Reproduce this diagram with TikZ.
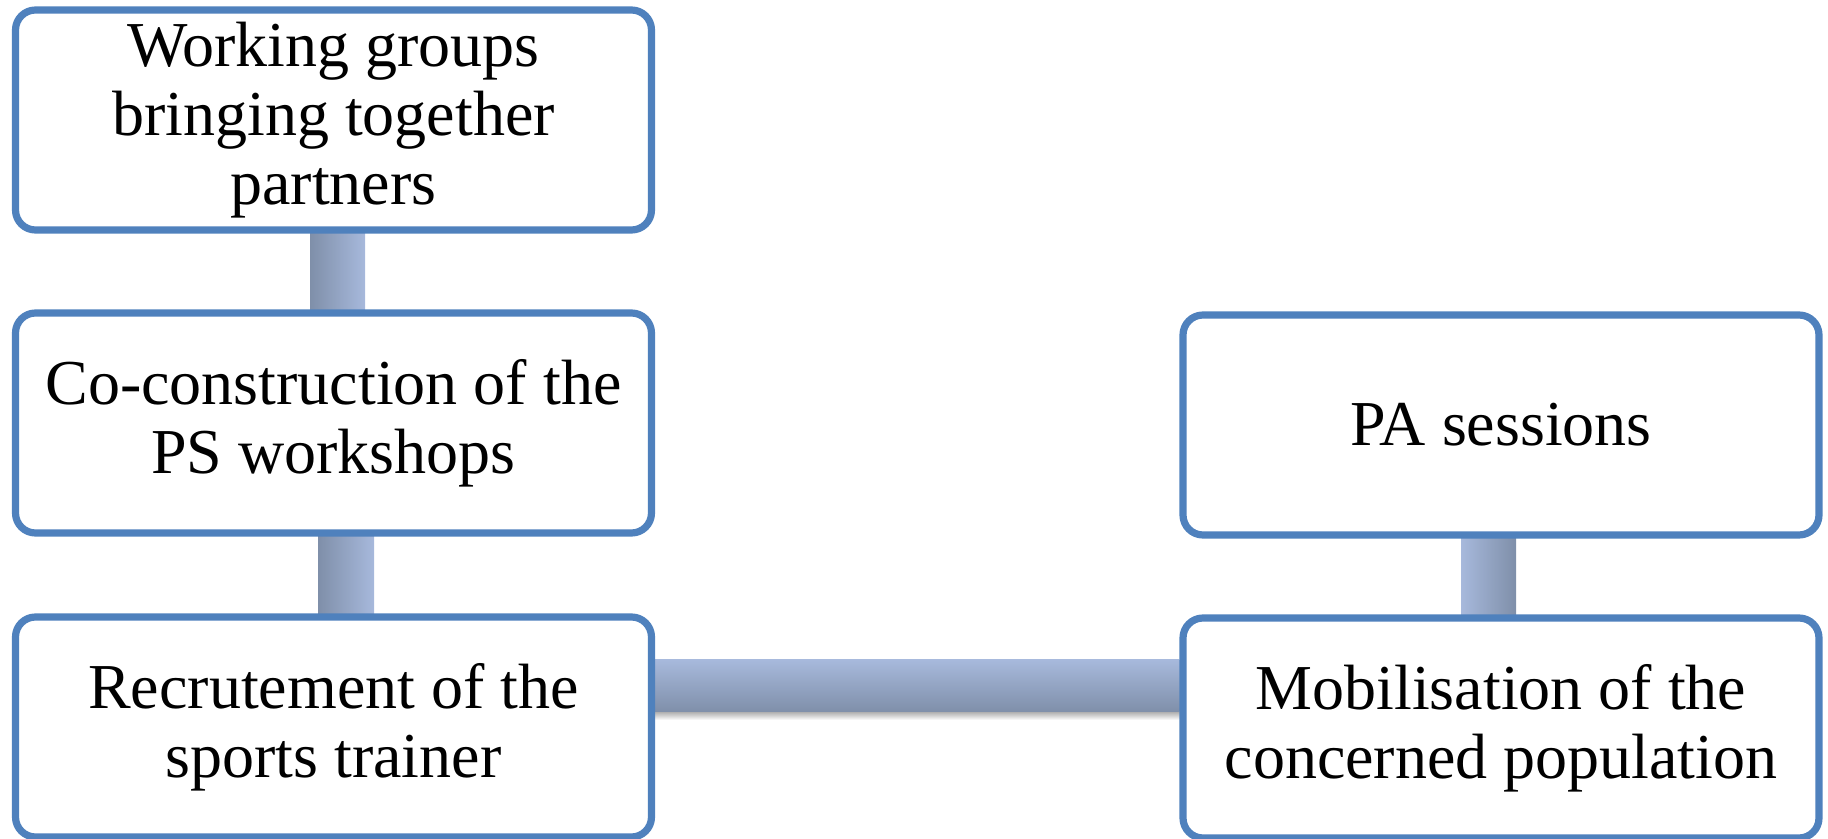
\documentclass[tikz,border=0pt]{standalone}
\usepackage{fontspec}
\setmainfont{Liberation Serif}
\usetikzlibrary{calc,backgrounds}
\definecolor{boxblue}{HTML}{4F81BD}
\definecolor{cdark}{HTML}{7F8FA9}
\definecolor{clight}{HTML}{A7B9DC}
\tikzset{
  stepbox/.style={draw=boxblue, line width=3.6pt, rounded corners=10pt, fill=white,
    minimum width=318pt, minimum height=110pt, inner sep=0pt, align=center,
    font=\fontsize{32pt}{34.5pt}\selectfont},
}
\begin{document}
\begin{tikzpicture}[x=0.5pt,y=-0.5pt]
\useasboundingbox (0,0) rectangle (1828,839);
\node[stepbox] (b1) at (333.5,120) {Working groups\\bringing together\\partners};
\node[stepbox] (b2) at (333.5,423) {Co-construction of the\\PS workshops};
\node[stepbox] (b3) at (333.5,727) {Recrutement of the\\sports trainer};
\node[stepbox] (b4) at (1501,425) {PA sessions};
\node[stepbox] (b5) at (1501,728) {Mobilisation of the\\concerned population};
\begin{pgfonlayer}{background}
\shade[left color=cdark, right color=clight] ($(b1.south)+(-23.5,0)$) rectangle ($(b2.north)+(31.5,0)$);
\shade[left color=cdark, right color=clight] ($(b2.south)+(-15.5,0)$) rectangle ($(b3.north)+(40.5,0)$);
\shade[left color=clight, right color=cdark] ($(b4.south)+(-40,0)$) rectangle ($(b5.north)+(15,0)$);
\shade[top color=black!35, bottom color=white] ($(b3.east)+(0,-16)$) rectangle ($(b5.west)+(0,-8)$);
\shade[top color=clight, bottom color=cdark] ($(b3.east)+(0,-67)$) rectangle ($(b5.west)+(0,-16)$);
\end{pgfonlayer}
\end{tikzpicture}
\end{document}
